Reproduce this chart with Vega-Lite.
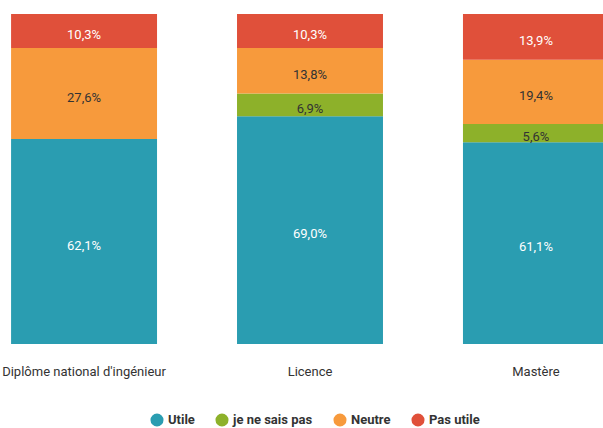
{
  "$schema": "https://vega.github.io/schema/vega-lite/v6.json",
  "width": 620,
  "height": 330,
  "padding": {"left": 0, "top": 14, "right": 0, "bottom": 0},
  "background": "white",
  "config": {
    "view": {"stroke": null},
    "font": "Roboto",
    "locale": {"number": {"decimal": ",", "thousands": " ", "grouping": [3], "currency": ["", " €"]}}
  },
  "data": {
    "values": [
      {"diplome": "Diplôme national d'ingénieur", "reponse": "Utile", "ordre": 1, "valeur": 0.621},
      {"diplome": "Diplôme national d'ingénieur", "reponse": "je ne sais pas", "ordre": 2, "valeur": 0.0},
      {"diplome": "Diplôme national d'ingénieur", "reponse": "Neutre", "ordre": 3, "valeur": 0.276},
      {"diplome": "Diplôme national d'ingénieur", "reponse": "Pas utile", "ordre": 4, "valeur": 0.103},
      {"diplome": "Licence", "reponse": "Utile", "ordre": 1, "valeur": 0.690},
      {"diplome": "Licence", "reponse": "je ne sais pas", "ordre": 2, "valeur": 0.069},
      {"diplome": "Licence", "reponse": "Neutre", "ordre": 3, "valeur": 0.138},
      {"diplome": "Licence", "reponse": "Pas utile", "ordre": 4, "valeur": 0.103},
      {"diplome": "Mastère", "reponse": "Utile", "ordre": 1, "valeur": 0.611},
      {"diplome": "Mastère", "reponse": "je ne sais pas", "ordre": 2, "valeur": 0.056},
      {"diplome": "Mastère", "reponse": "Neutre", "ordre": 3, "valeur": 0.194},
      {"diplome": "Mastère", "reponse": "Pas utile", "ordre": 4, "valeur": 0.139}
    ]
  },
  "transform": [
    {"stack": "valeur", "groupby": ["diplome"], "sort": [{"field": "ordre", "order": "ascending"}], "as": ["y0", "y1"]},
    {"calculate": "(datum.y0 + datum.y1) / 2", "as": "ymid"}
  ],
  "encoding": {
    "x": {
      "field": "diplome", "type": "nominal", "sort": null,
      "scale": {"paddingInner": 0.354, "paddingOuter": 0.049},
      "axis": {"title": null, "domain": false, "ticks": false, "labelAngle": 0, "labelFontSize": 13, "labelColor": "#333333", "labelPadding": 21, "labelLimit": 0}
    }
  },
  "layer": [
    {
      "mark": {"type": "bar"},
      "encoding": {
        "y": {"field": "y0", "type": "quantitative", "scale": {"domain": [0, 1]}, "axis": null},
        "y2": {"field": "y1"},
        "color": {
          "field": "reponse", "type": "nominal",
          "scale": {"domain": ["Utile", "je ne sais pas", "Neutre", "Pas utile"], "range": ["#2a9db1", "#8db12a", "#f79a3c", "#e0503a"]},
          "legend": {
            "title": null, "orient": "none", "legendX": 150, "legendY": 399, "direction": "horizontal", "symbolType": "circle", "symbolSize": 170,
            "symbolStrokeWidth": 0, "labelFontSize": 13, "labelFontWeight": "bold", "labelColor": "#333333",
            "columnPadding": 20
          }
        }
      }
    },
    {
      "transform": [{"filter": "datum.valeur > 0"}],
      "mark": {"type": "text", "fontSize": 13, "baseline": "middle", "align": "center", "dy": 4},
      "encoding": {
        "y": {"field": "ymid", "type": "quantitative"},
        "text": {"field": "valeur", "type": "quantitative", "format": ".1%"},
        "color": {
          "condition": {"test": "datum.reponse === 'Utile' || datum.reponse === 'Pas utile'", "value": "#ffffff"},
          "value": "#333333"
        }
      }
    }
  ]
}
